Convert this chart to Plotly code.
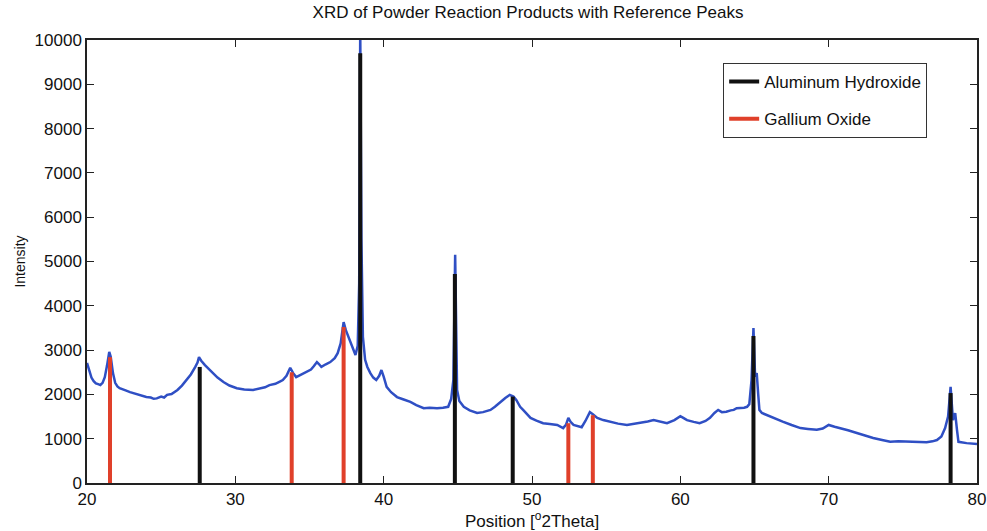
import plotly.graph_objects as go

# Measured diffraction pattern (2-theta in degrees, counts)
two_theta = [20.0, 20.15, 20.3, 20.45, 20.6, 20.75, 20.9, 21.05, 21.2, 21.35, 21.5, 21.6,
             21.75, 21.9, 22.05, 22.2, 22.4, 22.6, 22.9, 23.2, 23.5, 23.8, 24.0, 24.3,
             24.5, 24.7, 25.0, 25.2, 25.4, 25.7, 25.9, 26.1, 26.4, 26.7, 27.0, 27.3,
             27.45, 27.55, 27.7, 27.95, 28.2, 28.5, 28.8, 29.2, 29.6, 30.1, 30.6, 31.2,
             31.6, 32.0, 32.3, 32.7, 33.0, 33.2, 33.45, 33.7, 33.9, 34.1, 34.4, 34.8,
             35.1, 35.3, 35.5, 35.65, 35.8, 36.1, 36.4, 36.7, 36.9, 37.1, 37.3, 37.45,
             37.7, 37.9, 38.1, 38.25, 38.35, 38.42, 38.5, 38.6, 38.75, 38.9, 39.1, 39.3,
             39.5, 39.7, 39.85, 40.0, 40.2, 40.5, 40.9, 41.3, 41.8, 42.2, 42.7, 43.1,
             43.6, 44.0, 44.35, 44.55, 44.7, 44.82, 44.95, 45.1, 45.4, 45.8, 46.3, 46.7,
             47.2, 47.5, 47.85, 48.2, 48.5, 48.75, 48.95, 49.2, 49.4, 49.9, 50.3, 50.75,
             51.2, 51.7, 52.1, 52.3, 52.45, 52.6, 52.8, 53.1, 53.35, 53.6, 53.9, 54.1,
             54.4, 54.8, 55.3, 55.8, 56.4, 56.8, 57.3, 57.8, 58.2, 58.6, 59.1, 59.6,
             60.0, 60.2, 60.45, 60.9, 61.3, 61.7, 62.0, 62.3, 62.55, 62.8, 63.1, 63.4,
             63.6, 63.8, 64.0, 64.3, 64.5, 64.65, 64.8, 64.93, 65.04, 65.15, 65.25, 65.33,
             65.5, 65.8, 66.3, 66.9, 67.5, 68.1, 68.6, 69.2, 69.6, 70.0, 70.4, 70.8,
             71.3, 71.9, 72.4, 73.0, 73.6, 74.15, 74.7, 75.3, 75.9, 76.6, 77.0, 77.3,
             77.6, 77.85, 78.05, 78.22, 78.38, 78.53, 78.65, 78.75, 79.3, 80.0]
intensity = [2710, 2520, 2380, 2300, 2250, 2230, 2210, 2260, 2390, 2650, 2960, 2850,
             2480, 2260, 2180, 2140, 2120, 2090, 2050, 2020, 1990, 1960, 1940, 1930,
             1900, 1910, 1950, 1930, 1990, 2010, 2060, 2100, 2200, 2325, 2450, 2620,
             2720, 2840, 2760, 2660, 2580, 2480, 2380, 2280, 2200, 2140, 2110, 2100,
             2130, 2160, 2210, 2240, 2290, 2325, 2420, 2600, 2480, 2390, 2440, 2500,
             2560, 2640, 2730, 2680, 2620, 2680, 2730, 2820, 2930, 3150, 3630, 3450,
             3230, 3020, 2890, 3100, 4500, 10300, 5500, 3300, 2780, 2620, 2480, 2380,
             2325, 2420, 2550, 2400, 2170, 2050, 1940, 1890, 1830, 1760, 1690, 1700,
             1690, 1700, 1720, 1900, 2325, 5150, 2100, 1850, 1720, 1640, 1580, 1600,
             1650, 1720, 1830, 1920, 1990, 1950, 1870, 1720, 1650, 1470, 1410, 1350,
             1330, 1310, 1240, 1320, 1470, 1380, 1310, 1280, 1260, 1400, 1600, 1550,
             1470, 1420, 1380, 1340, 1310, 1330, 1350, 1390, 1420, 1390, 1350, 1420,
             1510, 1470, 1420, 1380, 1350, 1400, 1470, 1580, 1650, 1600, 1610, 1640,
             1650, 1690, 1690, 1700, 1720, 1780, 2325, 3500, 2400, 2480, 2000, 1650,
             1580, 1535, 1460, 1385, 1310, 1240, 1220, 1200, 1230, 1310, 1270, 1240,
             1190, 1130, 1070, 1015, 970, 930, 940, 930, 925, 920, 940, 970,
             1050, 1240, 1500, 2170, 1420, 1580, 1200, 930, 900, 880]

# Reference stick patterns
al_oh_pos = [27.6, 38.42, 44.8, 48.7, 64.93, 78.22]
al_oh_int = [2620, 9700, 4720, 1950, 3320, 2030]
ga2o3_pos = [21.55, 33.8, 37.3, 52.45, 54.1]
ga2o3_int = [2840, 2500, 3520, 1350, 1530]


def sticks(pos, heights):
    xs, ys = [], []
    for p, h in zip(pos, heights):
        xs += [p, p, None]
        ys += [0, h, None]
    return xs, ys


fig = go.Figure()

fig.add_trace(go.Scatter(
    x=two_theta, y=intensity, mode="lines",
    line=dict(color="#2f4fc4", width=2.5),
    showlegend=False, hoverinfo="x+y",
))

ax, ay = sticks(al_oh_pos, al_oh_int)
fig.add_trace(go.Scatter(
    x=ax, y=ay, mode="lines", name="Aluminum Hydroxide", legendgroup="al",
    line=dict(color="#111111", width=4),
))

gx, gy = sticks(ga2o3_pos, ga2o3_int)
fig.add_trace(go.Scatter(
    x=gx, y=gy, mode="lines", name="Gallium Oxide", legendgroup="ga",
    line=dict(color="#e0402a", width=4),
))

axis_common = dict(
    showline=True, linecolor="#222", linewidth=1.5, mirror="ticks",
    ticks="inside", ticklen=7, tickwidth=1.2, tickcolor="#222",
    showgrid=False, zeroline=False, automargin=False,
    tickfont=dict(family="Liberation Sans", size=17, color="#111"),
)

fig.update_layout(
    width=987, height=531,
    margin=dict(l=87, r=10, t=40, b=48),
    paper_bgcolor="white", plot_bgcolor="white",
    title=dict(text="XRD of Powder Reaction Products with Reference Peaks",
               x=0.535, xanchor="center", y=0.988, yanchor="top",
               font=dict(family="Liberation Sans", size=17, color="#111")),
    xaxis=dict(range=[20, 80], dtick=10, tick0=20,
               title=dict(text="Position [<sup>o</sup>2Theta]", standoff=5,
                          font=dict(family="Liberation Sans", size=17, color="#111")),
               **axis_common),
    yaxis=dict(range=[0, 10000], dtick=1000, tick0=0, tickformat="d",
               title=dict(text="Intensity", standoff=6,
                          font=dict(family="Liberation Sans", size=14, color="#111")),
               **axis_common),
    legend=dict(x=0.944, xanchor="right", y=0.948, yanchor="top",
                bordercolor="#333", borderwidth=1, bgcolor="white",
                font=dict(family="Liberation Sans", size=17, color="#111"),
                tracegroupgap=12),
)

fig.write_html("out.html")
